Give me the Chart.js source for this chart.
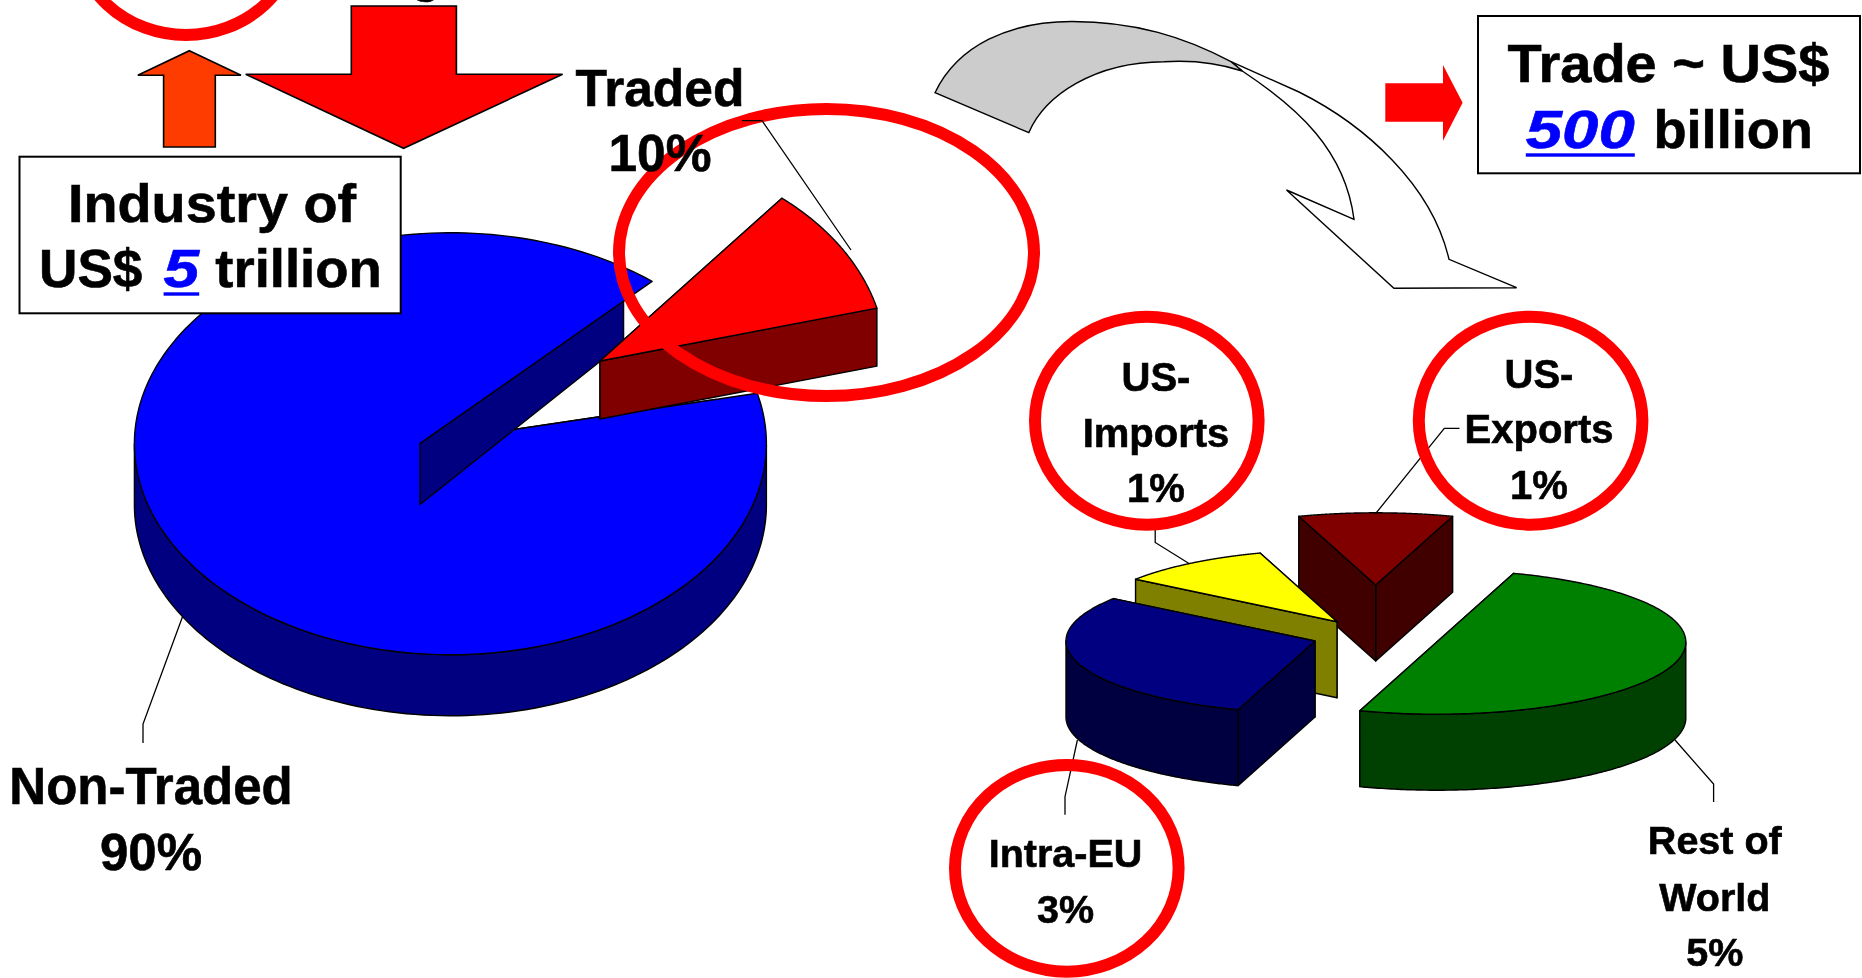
<!DOCTYPE html>
<html>
<head>
<meta charset="utf-8">
<title>Industry and trade shares</title>
<script src="https://cdn.jsdelivr.net/npm/chart.js@4/dist/chart.umd.min.js"></script>
<style>
  html, body { margin: 0; padding: 0; background: #fff; width: 1862px; height: 978px; overflow: hidden; }
  canvas, svg { position: absolute; left: 0; top: 0; }
  text { font-family: "Liberation Sans", Arial, sans-serif; font-weight: bold; fill: #000; stroke: #000; stroke-width: 0.6; }
  text.figure { fill: #0000ff; stroke: #0000ff; font-style: italic; }
</style>
</head>
<body>
<canvas id="industry" width="1862" height="978"></canvas>
<canvas id="trade" width="1862" height="978"></canvas>
<svg id="notes" width="1862" height="978" xmlns="http://www.w3.org/2000/svg"></svg>
<script>
// Share of the industry that is traded at all
const industryLabels = ['Traded', 'Non-Traded'];
const industryValues = [10, 90];
const industryColors = ['#ff0000', '#0000ff'];
const industryWalls = ['#800000', '#000080'];

// How the traded share breaks down
const tradeLabels = ['Rest of World', 'Intra-EU', 'US-Imports', 'US-Exports'];
const tradeValues = [5, 3, 1, 1];
const tradeColors = ['#008000', '#000080', '#ffff00', '#800000'];
const tradeWalls = ['#004000', '#000040', '#808000', '#400000'];

// Projection of each exploded slice: screen centre, radial scale, rim ellipse and extrusion
const industryProjection = [
  { cx: 600, cy: 361, rx: 286, ry: 211, depth: 58 },
  { cx: 420, cy: 443.5, rx: 540, ry: 311, depth: 61,
    rim: { cx: 450.4, cy: 443.75, rx: 316, ry: 211 }, rimDepth: 61,
    wallReach: 0.877, wallEndDepth: 41.4, wallOverFace: true }
];
const tradeProjection = [
  { cx: 1436.8, cy: 642, rx: 249, ry: 72.2, depth: 76 },
  { cx: 1315, cy: 641, rx: 249, ry: 72.2, depth: 76 },
  { cx: 1337, cy: 621.7, rx: 249, ry: 72.2, depth: 76 },
  { cx: 1375.7, cy: 585, rx: 249, ry: 72.2, depth: 76 }
];

// Rim point hit by the ray leaving the slice centre at a given arc angle
function rimPoint(p, a) {
  const rim = p.rim || p;
  const dx = p.rx * Math.cos(a), dy = p.ry * Math.sin(a);
  const ox = (p.cx - rim.cx) / rim.rx, oy = (p.cy - rim.cy) / rim.ry;
  const ux = dx / rim.rx, uy = dy / rim.ry;
  const A = ux * ux + uy * uy, B = 2 * (ox * ux + oy * uy), C = ox * ox + oy * oy - 1;
  const t = (-B + Math.sqrt(Math.max(B * B - 4 * A * C, 0))) / (2 * A);
  return { x: p.cx + dx * t, y: p.cy + dy * t };
}

function polygon(ctx, pts, fill) {
  ctx.beginPath();
  pts.forEach((q, i) => (i ? ctx.lineTo(q.x, q.y) : ctx.moveTo(q.x, q.y)));
  if (fill) {
    ctx.closePath();
    ctx.fillStyle = fill;
    ctx.fill();
  }
  ctx.stroke();
}

function radialWall(ctx, p, q, wall) {
  const reach = p.wallReach || 1;
  const endDepth = p.wallEndDepth || p.depth;
  const apex = { x: p.cx, y: p.cy };
  const e = { x: apex.x + (q.x - apex.x) * reach, y: apex.y + (q.y - apex.y) * reach };
  polygon(ctx, [apex, e, { x: e.x, y: e.y + endDepth }, { x: apex.x, y: apex.y + p.depth }], wall);
}

// Extruded pie: walls first, then the library's arc element squashed onto the top face
const extrudedPie = {
  id: 'extrudedPie',
  beforeDatasetsDraw(chart, args, opts) {
    const ctx = chart.ctx;
    const arcs = chart.getDatasetMeta(0).data;
    ctx.lineJoin = 'round';
    ctx.strokeStyle = '#000';
    ctx.lineWidth = 1.4;
    opts.order.forEach(i => {
      const arc = arcs[i], p = opts.projection[i], wall = opts.walls[i];
      const rim = p.rim || p;
      const rimDepth = p.rimDepth || p.depth;
      const steps = 240, edge = [];
      for (let k = 0; k <= steps; k++) {
        edge.push(rimPoint(p, arc.startAngle + (arc.endAngle - arc.startAngle) * k / steps));
      }
      const apex = { x: p.cx, y: p.cy };
      const first = edge[0], last = edge[steps];

      // Radial walls, the one further back first
      const ends = first.y < last.y ? [first, last] : [last, first];
      if (p.wallOverFace) radialWall(ctx, p, first, wall);
      else ends.forEach(q => radialWall(ctx, p, q, wall));

      // Outer wall, only where the rim faces the viewer
      const front = edge.filter(q => q.y >= rim.cy);
      if (front.length > 1) {
        const lower = front.slice().reverse().map(q => ({ x: q.x, y: q.y + rimDepth }));
        polygon(ctx, front.concat(lower), wall);
      }

      // Top face
      ctx.save();
      ctx.beginPath();
      ctx.ellipse(rim.cx, rim.cy, rim.rx, rim.ry, 0, 0, Math.PI * 2);
      ctx.clip();
      ctx.translate(p.cx, p.cy);
      ctx.scale(p.rx / arc.outerRadius, p.ry / arc.outerRadius);
      ctx.translate(-arc.x, -arc.y);
      arc.draw(ctx);
      ctx.restore();
      polygon(ctx, [apex].concat(edge, [apex]));

      // The large slice's cut face sits in front of its own top
      if (p.wallOverFace) radialWall(ctx, p, last, wall);
    });
    return false;
  }
};

function pie(id, labels, values, colors, walls, projection, rotation, order) {
  return new Chart(document.getElementById(id), {
    type: 'pie',
    data: { labels, datasets: [{ data: values, backgroundColor: colors, borderWidth: 0 }] },
    options: {
      responsive: false,
      animation: false,
      rotation,
      events: [],
      layout: { padding: 0 },
      plugins: {
        legend: { display: false },
        tooltip: { enabled: false },
        extrudedPie: { projection, walls, order }
      }
    },
    plugins: [extrudedPie]
  });
}

pie('industry', industryLabels, industryValues, industryColors, industryWalls, industryProjection, 39.5, [1, 0]);
pie('trade', tradeLabels, tradeValues, tradeColors, tradeWalls, tradeProjection, 18, [3, 2, 1, 0]);

// Annotation layer
const svg = document.getElementById('notes');
const NS = 'http://www.w3.org/2000/svg';
function add(tag, attrs, parent, content) {
  const el = document.createElementNS(NS, tag);
  Object.keys(attrs).forEach(k => el.setAttribute(k, attrs[k]));
  if (content !== undefined) el.textContent = content;
  (parent || svg).appendChild(el);
  return el;
}
function leader(points) {
  add('polyline', { points: points.join(' '), fill: 'none', stroke: '#000', 'stroke-width': 1.3 });
}
function ring(cx, cy, rx, ry) {
  add('ellipse', { cx, cy, rx, ry, fill: 'none', stroke: '#ff0000', 'stroke-width': 12 });
}
function label(x, baselines, size, lines) {
  lines.forEach((line, i) => add('text', { x, y: baselines[i], 'font-size': size, 'text-anchor': 'middle' }, svg, line));
}
// Text run fitted between two x positions
function run(x0, x1, y, size, content, cls) {
  const attrs = { x: x0, y, 'font-size': size, textLength: x1 - x0, lengthAdjust: 'spacingAndGlyphs' };
  if (cls) attrs.class = cls;
  add('text', attrs, svg, content);
}
function pct(v) { return v + '%'; }

// Curved flow arrow between the two pies
add('path', { d: 'M1231,61.7 L1299,92 C1365,125 1432,185 1449,259.3 L1516.6,287.7 L1393.9,288.3 L1286.5,190 L1354,219.3 C1345,150 1298,108 1242.3,71 Z',
  fill: '#fff', stroke: '#000', 'stroke-width': 1.4 });
add('path', { d: 'M935,92.7 C958,45 1010,21.5 1072,21.5 C1135,21.5 1185,37 1231,61.7 L1242.3,71 C1215,62 1190,60 1163.8,61.7 C1095,62 1045,95 1028.8,132.7 Z',
  fill: '#cccccc', stroke: '#000', 'stroke-width': 1.4 });

// Block arrows
add('polygon', { points: '189.4,50.7 241,75.3 215.3,75.3 215.3,147 163.6,147 163.6,75.3 137.8,75.3',
  fill: '#ff3c00', stroke: '#000', 'stroke-width': 1.6 });
add('polygon', { points: '351.3,6 456.4,6 456.4,74.3 562.6,74.3 403.6,148.3 245.7,74.3 351.3,74.3',
  fill: '#ff0000', stroke: '#000', 'stroke-width': 1.6 });
add('polygon', { points: '1385.3,83.3 1443,83.3 1443,65 1462.6,102.7 1443,140.7 1443,121.7 1385.3,121.7', fill: '#ff0000' });

// Leaders that pass under the rings
leader(['1675,740', '1713.6,784', '1713.6,802']);
leader(['1077.4,740', '1065,796.7', '1065,814.7']);
leader(['1155.2,530', '1155.2,542.5', '1189,563.5']);
leader(['1375.3,514', '1444.3,428.3', '1459.5,428.3']);
leader(['182.5,616.7', '143,724', '143,743']);

// Red highlight rings
ring(826.5, 252.5, 207.5, 143.6);
ring(186, -69, 111.5, 104);
ring(1146.8, 420.7, 111.8, 104);
ring(1530.6, 420.7, 111.8, 104);
ring(1066.8, 868.3, 111.8, 103.4);

leader(['742,120.7', '762,120.7', '851,250']);

// Boxed totals
add('rect', { x: 19.5, y: 156.7, width: 381.2, height: 156.6, fill: '#fff', stroke: '#000', 'stroke-width': 2 });
add('rect', { x: 1478, y: 16, width: 382, height: 157.3, fill: '#fff', stroke: '#000', 'stroke-width': 2 });

const figureLine = 3.4;
function figure(x0, x1, y, content) {
  run(x0, x1, y, 54, content, 'figure');
  add('rect', { x: x0, y: y + 5.6, width: x1 - x0, height: figureLine, fill: '#0000ff' });
}
run(68, 356, 221.7, 54, 'Industry of');
run(39, 142.4, 286.7, 54, 'US$');
figure(163.6, 199.2, 286.7, '5');
run(215.3, 381.7, 286.7, 54, 'trillion');
run(1507.4, 1829.5, 81.7, 54, 'Trade ~ US$');
figure(1525.8, 1634.8, 147.7, '500');
run(1653.4, 1813, 147.7, 54, 'billion');

// Slice labels
label(660, [105.7, 170.7], 51.5, [industryLabels[0], pct(industryValues[0])]);
label(151, [804.4, 869.6], 51, [industryLabels[1], pct(industryValues[1])]);
label(1714.8, [854.3, 910.7, 966], 39.5, ['Rest of', 'World', pct(tradeValues[0])]);
label(1065.5, [867.3, 923.3], 39.5, [tradeLabels[1], pct(tradeValues[1])]);
label(1156, [390.7, 446.7, 502.3], 40, ['US-', 'Imports', pct(tradeValues[2])]);
label(1539, [387.7, 443.3, 499], 40, ['US-', 'Exports', pct(tradeValues[3])]);

// Heading that runs off the top edge: only its descender shows
label(426, [-8], 49, ['g']);
</script>
</body>
</html>
